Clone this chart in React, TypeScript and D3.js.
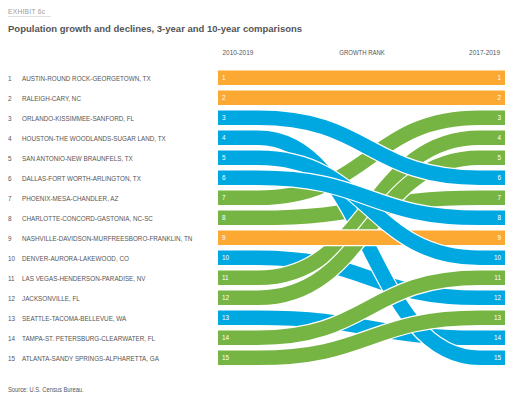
import React from 'react';
import * as d3 from 'd3';

const names = [
  'AUSTIN-ROUND ROCK-GEORGETOWN, TX',
  'RALEIGH-CARY, NC',
  'ORLANDO-KISSIMMEE-SANFORD, FL',
  'HOUSTON-THE WOODLANDS-SUGAR LAND, TX',
  'SAN ANTONIO-NEW BRAUNFELS, TX',
  'DALLAS-FORT WORTH-ARLINGTON, TX',
  'PHOENIX-MESA-CHANDLER, AZ',
  'CHARLOTTE-CONCORD-GASTONIA, NC-SC',
  'NASHVILLE-DAVIDSON-MURFREESBORO-FRANKLIN, TN',
  'DENVER-AURORA-LAKEWOOD, CO',
  'LAS VEGAS-HENDERSON-PARADISE, NV',
  'JACKSONVILLE, FL',
  'SEATTLE-TACOMA-BELLEVUE, WA',
  'TAMPA-ST. PETERSBURG-CLEARWATER, FL',
  'ATLANTA-SANDY SPRINGS-ALPHARETTA, GA',
];
const rank2010 = [1, 2, 3, 4, 5, 6, 7, 8, 9, 10, 11, 12, 13, 14, 15];
const rank2017 = [1, 2, 6, 15, 10, 8, 3, 7, 9, 12, 4, 5, 14, 11, 13];
const trend = ['same', 'same', 'down', 'down', 'down', 'down', 'up', 'up', 'same', 'down', 'up', 'up', 'down', 'up', 'up'];
const drawOrder = [13, 10, 8, 7, 4, 11, 12, 9, 5, 15, 14, 6, 3, 2, 1];
const headers = ['2010-2019', 'GROWTH RANK', '2017-2019'];

const colorOf: Record<string, string> = { same: '#FBA932', down: '#00A8E1', up: '#76B543' };
const sans = '"Liberation Sans", Arial, sans-serif';

function NText({ x, y, size, sx = 0.82, anchor = 'start', fill = '#555', children }: any) {
  return (
    <text
      transform={`translate(${x},${y}) scale(${sx},1)`}
      fontFamily={sans}
      fontSize={size}
      fill={fill}
      textAnchor={anchor}
    >
      {children}
    </text>
  );
}

export default function App() {
  const y = d3.scaleLinear().domain([1, 15]).range([77.8, 357.8]);
  const x = d3.scaleLinear().domain([0, 1]).range([218, 505]);
  const xs = 258;
  const xe = 480;
  const link = d3.linkHorizontal();
  const ribbon = (i: number) => {
    const y0 = y(rank2010[i]);
    const y1 = y(rank2017[i]);
    const l = link({ source: [xs, y0], target: [xe, y1] } as any) as string;
    return `M${x(0)},${y0}L${l.slice(1)}L${x(1)},${y1}`;
  };
  return (
    <svg width={512} height={398} style={{ position: 'absolute', left: 0, top: 0, background: '#fff' }}>
      <text x={8} y={14} fontFamily={sans} fontSize={6.6} fill="#9a9a9a" letterSpacing={0.3}>EXHIBIT 6c</text>
      <line x1={8} x2={51} y1={16.5} y2={16.5} stroke="#d8d8d8" strokeWidth={0.8} />
      <text x={8} y={32} fontFamily={sans} fontSize={9.5} fontWeight="bold" fill="#555">
        Population growth and declines, 3-year and 10-year comparisons
      </text>
      <NText x={222.5} y={55} size={7.2} sx={0.9}>{headers[0]}</NText>
      <NText x={362} y={55} size={7.3} anchor="middle">{headers[1]}</NText>
      <NText x={500} y={55} size={7.2} sx={0.9} anchor="end">{headers[2]}</NText>
      {names.map((n, i) => (
        <g key={n}>
          <NText x={8} y={y(rank2010[i]) + 2.8} size={7.7}>{rank2010[i]}</NText>
          <NText x={22} y={y(rank2010[i]) + 2.8} size={7.7}>{n}</NText>
        </g>
      ))}
      {drawOrder.map((r) => {
        const i = rank2010.indexOf(r);
        const d = ribbon(i);
        return (
          <g key={r}>
            <path d={d} fill="none" stroke="#fff" strokeWidth={17} />
            <path d={d} fill="none" stroke={colorOf[trend[i]]} strokeWidth={14.6} />
          </g>
        );
      })}
      {names.map((n, i) => (
        <g key={'l' + n}>
          <text x={222} y={y(rank2010[i]) + 2.4} fontFamily={sans} fontSize={6.4} fill="#fff">{rank2010[i]}</text>
          <text x={501} y={y(rank2010[i]) + 2.4} fontFamily={sans} fontSize={6.4} fill="#fff" textAnchor="end">{rank2010[i]}</text>
        </g>
      ))}
      <NText x={8} y={392} size={6.8} sx={0.85}>Source: U.S. Census Bureau.</NText>
    </svg>
  );
}
